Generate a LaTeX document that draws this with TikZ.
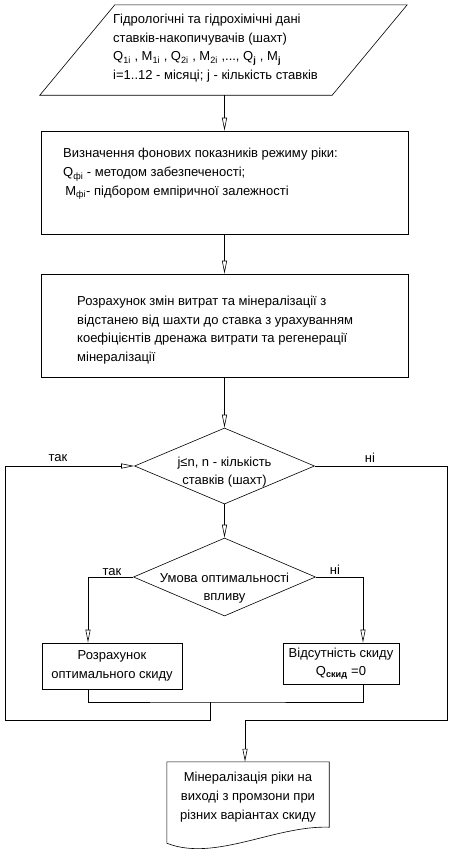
\documentclass[tikz,border=0pt]{standalone}
\usepackage{fontspec}
\setmainfont{Liberation Sans}
\usetikzlibrary{arrows.meta,positioning,shapes.geometric,calc}
\tikzset{
  txt/.style={inner sep=0pt,align=left,font=\fontsize{13}{18.7}\selectfont},
  process/.style={draw,rectangle,inner sep=0pt,line width=.6pt,align=center,
                  font=\fontsize{13}{18.7}\selectfont},
  decision/.style={draw,diamond,inner sep=0pt,line width=.6pt},
  io/.style={rectangle,inner sep=0pt},
  lbl/.style={inner sep=0pt,font=\fontsize{13}{15}\selectfont},
  flow/.style={-{Triangle[open,length=13pt,width=5pt]},line width=.6pt},
  conn/.style={line width=.6pt},
}
\begin{document}
\begin{tikzpicture}[x=1pt,y=-1pt]
  \useasboundingbox (0,0) rectangle (459,865);
  % input data
  \node[io,minimum width=217,minimum height=90] (data) at (223.5,50) {};
  \draw[conn] (data.north west) -- ($(data.north east)+(75,0)$) -- (data.south east)
    -- ($(data.south west)+(-75,0)$) -- cycle;
  \node[txt,anchor=west] (datat) at (113,48) {Гідрологічні та гідрохімічні дані\\
    ставків-накопичувачів (шахт)\\
    Q\textsubscript{1i} , M\textsubscript{1i} , Q\textsubscript{2i} , M\textsubscript{2i} ,..., Q\textsubscript{\textbf{j}} , M\textsubscript{\textbf{j}}\\
    i=1..12 - місяці; j - кількість ставків};
  % processing blocks
  \node[process,minimum width=367,minimum height=103] (bg) at (224.5,182.5) {};
  \node[txt,anchor=west] (bgt) at (63,174) {Визначення фонових показників режиму ріки:\\
    Q\textsubscript{фі} - методом забезпеченості;\\
    \,M\textsubscript{фі}- підбором емпіричної залежності};
  \node[process,minimum width=367,minimum height=103] (calc) at (224.5,325.5) {};
  \node[txt,anchor=west] (calct) at (77,330) {Розрахунок змін витрат та мінералізації з\\
    відстанею від шахти до ставка з урахуванням\\
    коефіцієнтів дренажа витрати та регенерації\\
    мінералізації};
  % decisions
  \node[decision,minimum width=180,minimum height=76] (cnt) at (224.5,466) {};
  \node[txt,align=center] (cntt) at (224.5,472) {j≤n, n - кількість\\ ставків (шахт)};
  \node[decision,minimum width=182,minimum height=78] (opt) at (224.5,577) {};
  \node[txt,align=center] (optt) at (224.5,588) {Умова оптимальності\\ впливу};
  % branches
  \node[process,minimum width=140,minimum height=46] (rozr) at (112,666) {Розрахунок\\ оптимального скиду};
  \node[process,minimum width=116,minimum height=41] (none) at (341,663.5) {Відсутність скиду\\ Q\textsubscript{\textbf{скид}} =0};
  % result
  \node[txt,align=center,minimum width=162,minimum height=70] (res) at (248,797) {Мінералізація ріки на\\
    виході з промзони при\\ різних варіантах скиду};
  \draw[conn] ($(res.south west)+(0,11)$) -- (res.north west) -- (res.north east)
    -- ($(res.south east)+(0,-5)$) .. controls ($(res.south east)+(-54,-7)$)
    and ($(res.south west)+(48,30)$) .. ($(res.south west)+(0,11)$);
  % labels
  \node[lbl] (yes1) at (58,458) {так};
  \node[lbl] (no1) at (370,458) {ні};
  \node[lbl] (yes2) at (112,572) {так};
  \node[lbl] (no2) at (335,570) {ні};
  % connectors
  \coordinate (lx) at (88,0);
  \coordinate (rx) at (363,0);
  \coordinate (mrg) at (210,702);
  \coordinate (lft) at (5,720);
  \coordinate (rgt) at (447,720);
  \coordinate (dn) at (245,720);
  \draw[flow] (data.south -| bg.north) -- (bg.north);
  \draw[flow] (bg) -- (calc);
  \draw[flow] (calc) -- (cnt);
  \draw[flow] (cnt) -- (opt);
  \draw[flow] (opt.west) -| (lx |- rozr.north);
  \draw[flow] (opt.east) -| (rx |- none.north);
  \draw[conn] (lx |- rozr.south) |- (mrg) -| (rx |- none.south);
  \draw[flow] (mrg) |- (lft) |- (cnt.west);
  \draw[flow] (cnt.east) -| (rgt) -- (dn) -- (dn |- res.north);
\end{tikzpicture}
\end{document}
